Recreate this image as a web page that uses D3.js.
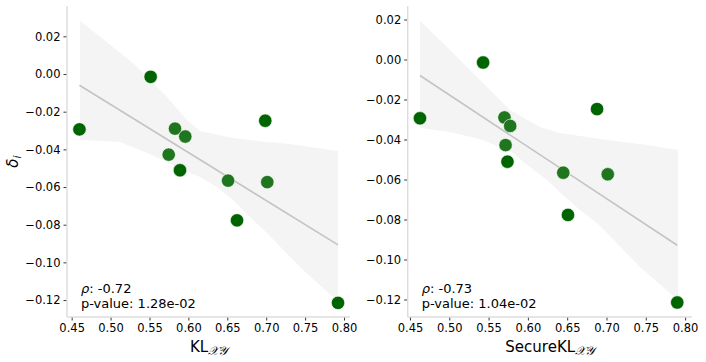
<!DOCTYPE html>
<html>
<head>
<meta charset="utf-8">
<script src="https://cdn.jsdelivr.net/npm/d3@7"></script>
<style>
  html, body { margin: 0; padding: 0; background: #fff; }
  svg { display: block; font-family: "DejaVu Sans", sans-serif; }
</style>
</head>
<body>
<svg id="chart" width="706" height="362"></svg>
<script>
// ---- data ----
const delta = [-0.0294, -0.0015, -0.0290, -0.0332, -0.0428, -0.0511, -0.0248, -0.0566, -0.0574, -0.0777, -0.1215];
const klXY = [0.460, 0.5515, 0.5828, 0.596, 0.5747, 0.5892, 0.6988, 0.651, 0.7014, 0.6625, 0.7923];
const secureKlXY = [0.4627, 0.543, 0.5702, 0.5775, 0.5716, 0.574, 0.688, 0.645, 0.7016, 0.651, 0.790];
const pointShade = [0, 0, 1, 1, 1, 0, 0, 1, 1, 0, 0];

// confidence band edges
const leftUpperX = [0.4607, 0.4864, 0.5288, 0.5725, 0.5982, 0.6149, 0.6573, 0.7010, 0.7306, 0.7923];
const leftUpperY = [0.0283, 0.0198, 0.0058, -0.0122, -0.0244, -0.0303, -0.0340, -0.0361, -0.0372, -0.0409];
const leftLowerX = [0.4607, 0.5121, 0.5506, 0.5931, 0.6149, 0.6368, 0.6573, 0.6792, 0.7010, 0.7434, 0.7923];
const leftLowerY = [-0.0350, -0.0361, -0.0425, -0.0510, -0.0547, -0.0600, -0.0669, -0.0759, -0.0844, -0.1025, -0.1211];
const rightUpperX = [0.4627, 0.5009, 0.5429, 0.5772, 0.6154, 0.6408, 0.7006, 0.7426, 0.7910];
const rightUpperY = [0.0194, 0.0048, -0.0118, -0.0253, -0.0338, -0.0368, -0.0403, -0.0423, -0.0453];
const rightLowerX = [0.4627, 0.5009, 0.5429, 0.5810, 0.6027, 0.6243, 0.6447, 0.6663, 0.6879, 0.7006, 0.7426, 0.7910];
const rightLowerY = [-0.0343, -0.0363, -0.0403, -0.0468, -0.0538, -0.0603, -0.0678, -0.0753, -0.0818, -0.0868, -0.1038, -0.1203];

const xTicks = [0.45, 0.50, 0.55, 0.60, 0.65, 0.70, 0.75, 0.80];
const yTicks = [0.02, 0.00, -0.02, -0.04, -0.06, -0.08, -0.10, -0.12];
const statsLeft = ["-0.72", "1.28e-02"];
const statsRight = ["-0.73", "1.04e-02"];

const leftXDomain = [0.444, 0.8077], leftYDomain = [-0.1290, 0.0361];
const rightXDomain = [0.4471, 0.8084], rightYDomain = [-0.12875, 0.02675];

// ---- drawing ----
const svg = d3.select("#chart");
const fmt = d3.format(".2f");
const minusFmt = v => fmt(v).replace("-", "\u2212");

function panel(cfg) {
  const x = d3.scaleLinear().domain(cfg.xDomain).range([cfg.left, cfg.right]);
  const y = d3.scaleLinear().domain(cfg.yDomain).range([cfg.bottom, cfg.top]);
  const g = svg.append("g");

  // band
  const upper = cfg.ux.map((v, i) => [x(v), y(cfg.uy[i])]);
  const lower = cfg.lx.map((v, i) => [x(v), y(cfg.ly[i])]).reverse();
  g.append("path")
    .attr("d", d3.line()(upper.concat(lower)) + "Z")
    .attr("fill", "#f4f4f4").attr("stroke", "none");

  // regression line (least squares)
  const xs = cfg.xs, ys = delta;
  const mx = d3.mean(xs), my = d3.mean(ys);
  const slope = d3.sum(xs, (v, i) => (v - mx) * (ys[i] - my)) / d3.sum(xs, v => (v - mx) * (v - mx));
  const x0 = d3.min(xs), x1 = d3.max(xs);
  g.append("line")
    .attr("x1", x(x0)).attr("y1", y(my + slope * (x0 - mx)))
    .attr("x2", x(x1)).attr("y2", y(my + slope * (x1 - mx)))
    .attr("stroke", "#c4c4c4").attr("stroke-width", 1.6);

  // points
  g.selectAll("circle.pt").data(xs).join("circle")
    .attr("class", "pt")
    .attr("cx", d => x(d))
    .attr("cy", (d, i) => y(ys[i]))
    .attr("r", 6.7)
    .attr("fill", (d, i) => pointShade[i] ? "#1f761f" : "#006400")
    .attr("stroke", "#ffffff").attr("stroke-width", 0.6);

  // axes
  const xAxis = g.append("g").attr("transform", `translate(0,${cfg.bottom})`)
    .call(d3.axisBottom(x).tickValues(xTicks).tickFormat(fmt).tickSizeOuter(0).tickSize(3.5).tickPadding(3));
  const yAxis = g.append("g").attr("transform", `translate(${cfg.left},0)`)
    .call(d3.axisLeft(y).tickValues(yTicks).tickFormat(minusFmt).tickSizeOuter(0).tickSize(3.5).tickPadding(3));
  [xAxis, yAxis].forEach(a => {
    a.select(".domain").remove();
    a.selectAll(".tick line").attr("stroke", "#222").attr("stroke-width", 0.9);
    a.selectAll(".tick text").attr("fill", "#000").style("font-size", "11.5px").style("font-family", "DejaVu Sans");
  });
  // spines
  g.append("line").attr("x1", cfg.left).attr("x2", cfg.left).attr("y1", cfg.top).attr("y2", cfg.bottom)
    .attr("stroke", "#dcdcdc").attr("stroke-width", 1.4);
  g.append("line").attr("x1", cfg.left).attr("x2", cfg.right).attr("y1", cfg.bottom).attr("y2", cfg.bottom)
    .attr("stroke", "#dcdcdc").attr("stroke-width", 1.4);

  // stats text
  const t1 = g.append("text").attr("x", cfg.left + 14).attr("y", cfg.bottom - 24)
    .style("font-size", "13px").attr("fill", "#000");
  t1.append("tspan").style("font-style", "italic").text("\u03c1");
  t1.append("tspan").text(": " + cfg.stats[0]);
  g.append("text").attr("x", cfg.left + 14).attr("y", cfg.bottom - 9)
    .style("font-size", "13px").attr("fill", "#000")
    .text("p-value: " + cfg.stats[1]);

  // x label
  const xl = g.append("text").attr("x", (cfg.left + cfg.right) / 2).attr("y", 352)
    .attr("text-anchor", "middle").style("font-size", "15px").attr("fill", "#000");
  xl.append("tspan").text(cfg.xLabel);
  xl.append("tspan").attr("dy", 3).style("font-family", "DejaVu Serif").style("font-style", "italic")
    .style("font-size", "12px").text("\u{1D4B3}\u{1D4B4}");

  if (cfg.yLabel) {
    const yl = g.append("text").attr("transform", `translate(18,${(cfg.top + cfg.bottom) / 2}) rotate(-90)`)
      .attr("text-anchor", "middle").style("font-size", "15px").attr("fill", "#000");
    yl.append("tspan").style("font-style", "italic").text("\u03b4");
    yl.append("tspan").attr("dy", 3).style("font-style", "italic").style("font-size", "11px").text("i");
  }
}

panel({ xs: klXY, xDomain: leftXDomain, yDomain: leftYDomain, left: 67, right: 350, top: 6, bottom: 317,
  ux: leftUpperX, uy: leftUpperY, lx: leftLowerX, ly: leftLowerY, stats: statsLeft,
  xLabel: "KL", yLabel: true });
panel({ xs: secureKlXY, xDomain: rightXDomain, yDomain: rightYDomain, left: 407.7, right: 691.7, top: 6, bottom: 317,
  ux: rightUpperX, uy: rightUpperY, lx: rightLowerX, ly: rightLowerY, stats: statsRight,
  xLabel: "SecureKL", yLabel: false });
</script>
</body>
</html>
